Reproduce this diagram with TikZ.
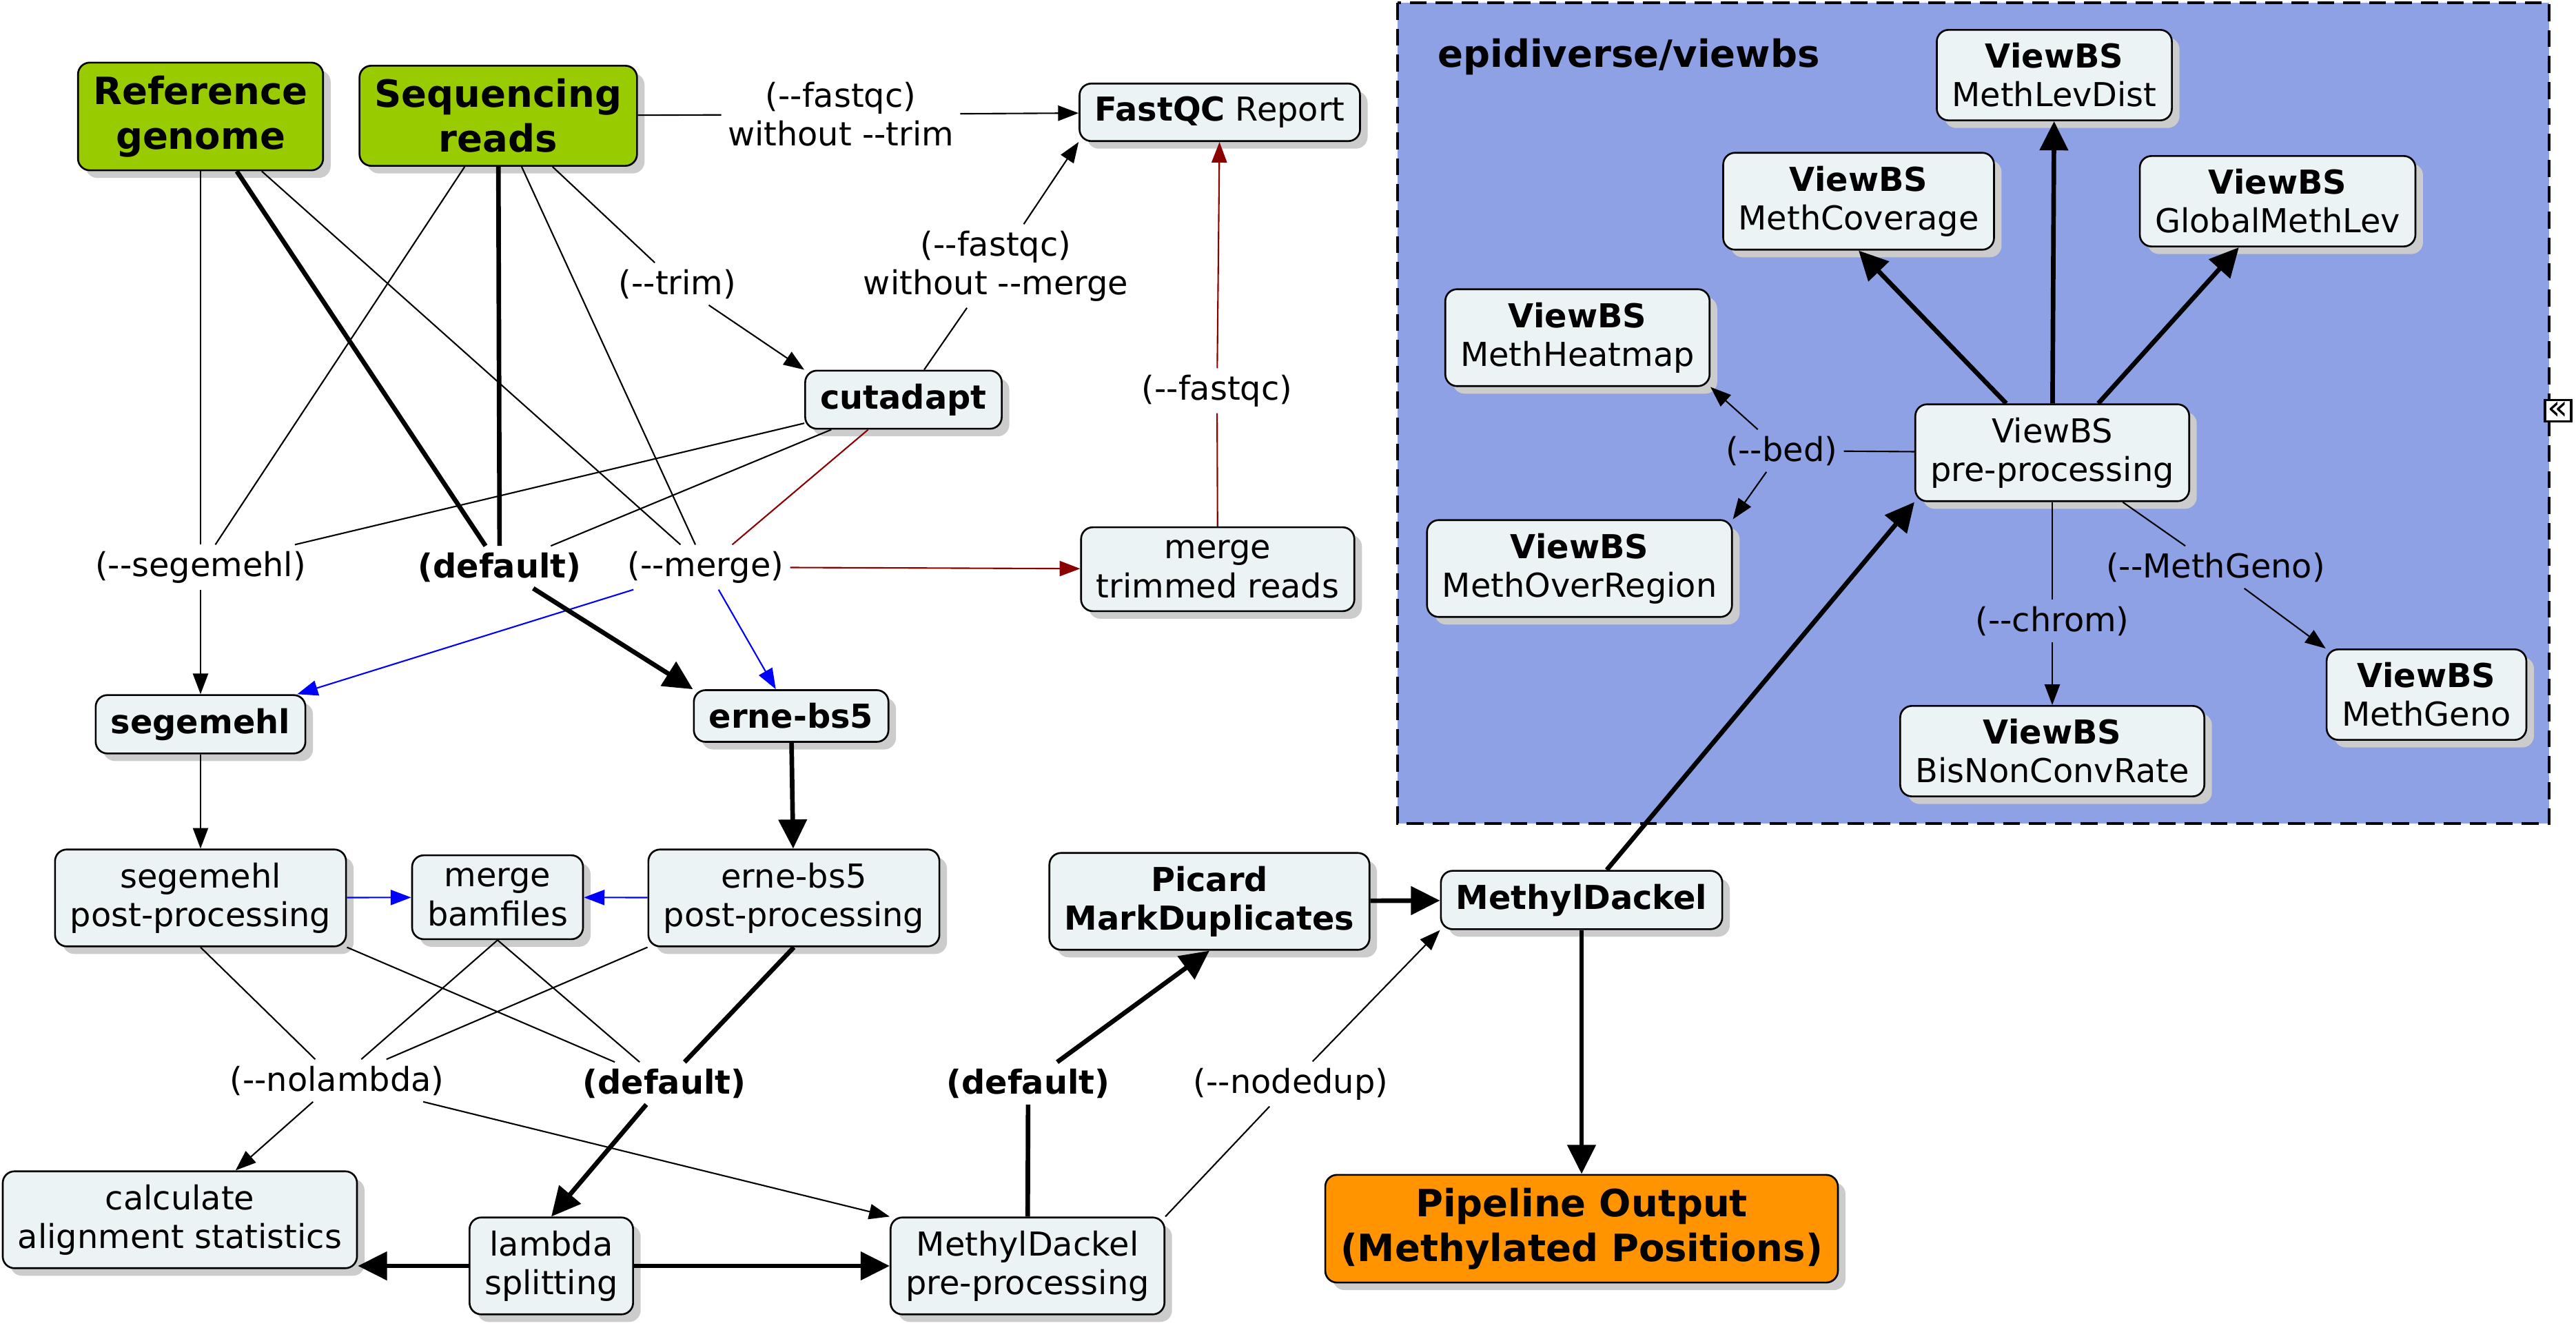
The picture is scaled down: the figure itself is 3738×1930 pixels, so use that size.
\documentclass[tikz,border=0pt]{standalone}
\usepackage{fontspec}
\setmainfont{DejaVu Sans}
\usetikzlibrary{arrows.meta,shadows}

\definecolor{nodefill}{RGB}{236,243,245}
\definecolor{startgreen}{RGB}{153,204,0}
\definecolor{endorange}{RGB}{255,148,0}
\definecolor{clusterblue}{RGB}{143,161,229}
\definecolor{shadowgray}{RGB}{204,204,204}
\definecolor{trimred}{RGB}{139,0,0}

\newcommand{\twodash}{-\kern0pt-}

\tikzset{
  box/.style={draw, line width=0.75pt, rounded corners=0.17cm, fill=nodefill,
    align=center, inner xsep=0.22cm, inner ysep=0.19cm,
    font=\fontsize{13.6pt}{16pt}\selectfont,
    drop shadow={shadow xshift=0.11cm, shadow yshift=-0.11cm, fill=shadowgray, opacity=1}},
  inbox/.style={box, fill=startgreen, font=\fontsize{15.5pt}{18.5pt}\selectfont\bfseries},
  outbox/.style={box, fill=endorange, font=\fontsize{15.5pt}{18.5pt}\selectfont\bfseries},
  lbl/.style={inner sep=2.5pt, align=center, font=\fontsize{13.6pt}{16pt}\selectfont},
  thinline/.style={line width=0.6pt},
  thickline/.style={line width=1.9pt},
  thinarr/.style={thinline, -{Triangle[length=8.5pt,width=6.3pt]}},
  thickarr/.style={thickline, -{Triangle[length=12pt,width=11.5pt]}},
  redline/.style={thinline, draw=trimred},
  redarr/.style={thinarr, draw=trimred, fill=trimred},
  bluearr/.style={thinarr, draw=blue, fill=blue},
  cluster/.style={draw, fill=clusterblue, line width=1.4pt, dash pattern=on 7pt off 3.7pt}
}

\begin{document}
\begin{tikzpicture}[x=0.01cm, y=-0.01cm]

  \useasboundingbox (0,0) rectangle (3738,1930);

  % Cadre viewbs
  \draw[cluster] (2028,4) rectangle (3699,1195);
  \node[anchor=west, font=\fontsize{15.5pt}{18.5pt}\selectfont\bfseries] (viewbs) at (2074,82) {epidiverse/viewbs};
  \node[draw, fill=white, line width=0.9pt, inner sep=0pt, minimum width=0.38cm, minimum height=0.31cm,
    font=\fontsize{14pt}{14pt}\selectfont] (collapse) at (3712,596) {«};

  % Noeuds
  \node[inbox] (ref) at (291,169) {Reference\\genome};
  \node[inbox] (seq) at (723,168) {Sequencing\\reads};
  \node[box] (fastqc) at (1770,163) {\textbf{FastQC} Report};
  \node[box] (cutadapt) at (1311,580) {\textbf{cutadapt}};
  \node[box] (mtr) at (1767,826) {merge\\trimmed reads};
  \node[box] (segemehl) at (291,1051) {\textbf{segemehl}};
  \node[box] (erne) at (1148,1039) {\textbf{erne-bs5}};
  \node[box] (segpp) at (291,1303) {segemehl\\post-processing};
  \node[box] (mergebam) at (722,1302) {merge\\bamfiles};
  \node[box] (ernepp) at (1152,1303) {erne-bs5\\post-processing};
  \node[box] (calc) at (261,1770) {calculate\\alignment statistics};
  \node[box] (lambda) at (800,1837) {lambda\\splitting};
  \node[box] (mdpp) at (1491,1837) {MethylDackel\\pre-processing};
  \node[box] (picard) at (1755,1308) {\textbf{Picard}\\\textbf{MarkDuplicates}};
  \node[box] (md) at (2295,1306) {\textbf{MethylDackel}};
  \node[outbox] (output) at (2295,1783) {Pipeline Output\\(Methylated Positions)};

  \node[box] (mld) at (2981,109) {\textbf{ViewBS}\\MethLevDist};
  \node[box] (mc) at (2697,292) {\textbf{ViewBS}\\MethCoverage};
  \node[box] (gml) at (3305,292) {\textbf{ViewBS}\\GlobalMethLev};
  \node[box] (mh) at (2289,490) {\textbf{ViewBS}\\MethHeatmap};
  \node[box] (vpp) at (2978,657) {ViewBS\\pre-processing};
  \node[box] (mor) at (2292,825) {\textbf{ViewBS}\\MethOverRegion};
  \node[box] (bncr) at (2978,1090) {\textbf{ViewBS}\\BisNonConvRate};
  \node[box] (mg) at (3521,1008) {\textbf{ViewBS}\\MethGeno};

  % Etiquettes
  \node[lbl] (lTrimNo) at (1220,166) {(\twodash fastqc)\\without \twodash trim};
  \node[lbl] (lTrim) at (983,412) {(\twodash trim)};
  \node[lbl] (lMergeNo) at (1445,386) {(\twodash fastqc)\\without \twodash merge};
  \node[lbl] (lFastqc) at (1766,567) {(\twodash fastqc)};
  \node[lbl] (lSeg) at (291,823) {(\twodash segemehl)};
  \node[lbl, font=\fontsize{13.6pt}{16pt}\selectfont\bfseries] (lDef) at (725,823) {(default)};
  \node[lbl] (lMerge) at (1024,823) {(\twodash merge)};
  \node[lbl] (lNolam) at (489,1568) {(\twodash nolambda)};
  \node[lbl, font=\fontsize{13.6pt}{16pt}\selectfont\bfseries] (lDefB) at (964,1572) {(default)};
  \node[lbl, font=\fontsize{13.6pt}{16pt}\selectfont\bfseries] (lDefC) at (1492,1572) {(default)};
  \node[lbl] (lNodedup) at (1873,1573) {(\twodash nodedup)};
  \node[lbl] (lBed) at (2585,654) {(\twodash bed)};
  \node[lbl] (lChrom) at (2978,901) {(\twodash chrom)};
  \node[lbl] (lMethGeno) at (3215,823) {(\twodash MethGeno)};

  % Arêtes
  \draw[thinline] (seq) -- (lTrimNo);
  \draw[thinarr] (lTrimNo) -- (fastqc);
  \draw[thinline] (seq) -- (lTrim);
  \draw[thinarr] (lTrim) -- (cutadapt.north west);
  \draw[thinline] (cutadapt) -- (lMergeNo);
  \draw[thinarr] (lMergeNo) -- (fastqc.south west);
  \draw[redline] (mtr) -- (lFastqc);
  \draw[redarr] (lFastqc) -- (fastqc);
  \draw[redline] (cutadapt) -- (lMerge);
  \draw[redarr] (lMerge) -- (mtr);
  \draw[bluearr] (lMerge) -- (segemehl);
  \draw[bluearr] (lMerge) -- (erne);

  \draw[thinline] (ref) -- (lSeg);
  \draw[thinline] (seq) -- (lSeg);
  \draw[thinline] (cutadapt) -- (lSeg);
  \draw[thinarr] (lSeg) -- (segemehl);
  \draw[thickline] (ref) -- (lDef);
  \draw[thickline] (seq) -- (lDef);
  \draw[thinline] (cutadapt) -- (lDef);
  \draw[thickarr] (lDef) -- (erne.north west);
  \draw[thinline] (ref) -- (lMerge);
  \draw[thinline] (seq) -- (lMerge);

  \draw[thinarr] (segemehl) -- (segpp);
  \draw[thickarr] (erne) -- (ernepp);
  \draw[bluearr] (segpp) -- (mergebam);
  \draw[bluearr] (ernepp) -- (mergebam);

  \draw[thinline] (segpp.south) -- (lNolam);
  \draw[thinline] (mergebam.south) -- (lNolam);
  \draw[thinline] (ernepp.south west) -- (lNolam);
  \draw[thinarr] (lNolam) -- (calc);
  \draw[thinarr] (lNolam) -- (mdpp.north west);
  \draw[thinline] (segpp.south east) -- (lDefB);
  \draw[thinline] (mergebam.south) -- (lDefB);
  \draw[thickline] (ernepp.south) -- (lDefB);
  \draw[thickarr] (lDefB) -- (lambda.north);
  \draw[thickarr] (lambda) -- (calc.east |- lambda);
  \draw[thickarr] (lambda) -- (mdpp);

  \draw[thickline] (mdpp) -- (lDefC);
  \draw[thickarr] (lDefC) -- (picard.south);
  \draw[thinline] (mdpp.north east) -- (lNodedup);
  \draw[thinarr] (lNodedup) -- (md.south west);
  \draw[thickarr] (picard) -- (md);
  \draw[thickarr] (md) -- (output);
  \draw[thickarr] (md) -- (vpp.south west);

  \draw[thickarr] (vpp) -- (mld);
  \draw[thickarr] (vpp.133) -- (mc.south);
  \draw[thickarr] (vpp.47) -- (gml.230);
  \draw[thinline] (vpp) -- (lBed);
  \draw[thinarr] (lBed) -- (mh.south east);
  \draw[thinarr] (lBed) -- (mor.north east);
  \draw[thinline] (vpp) -- (lChrom);
  \draw[thinarr] (lChrom) -- (bncr);
  \draw[thinline] (vpp) -- (lMethGeno);
  \draw[thinarr] (lMethGeno) -- (mg.north west);

\end{tikzpicture}
\end{document}
